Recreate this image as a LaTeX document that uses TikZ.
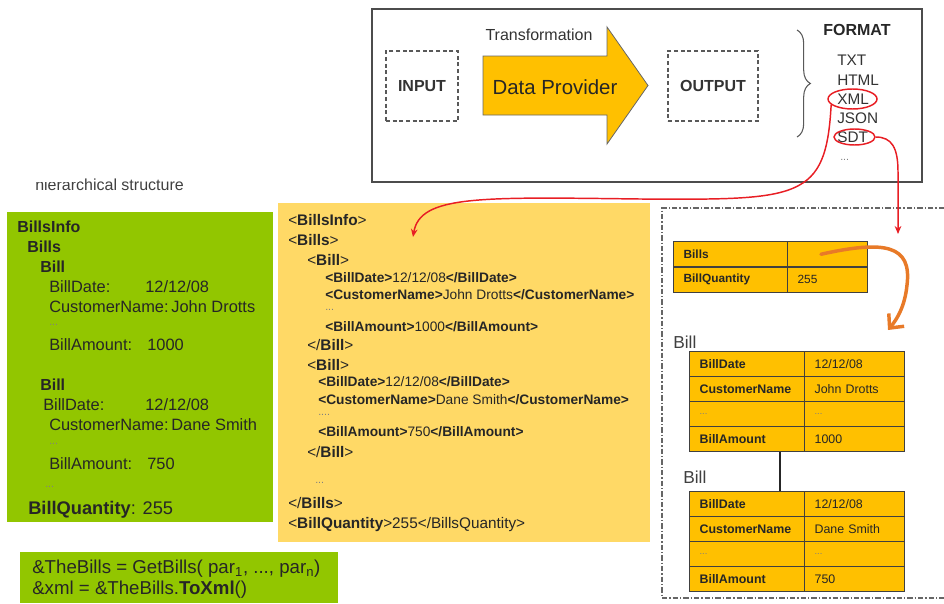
\documentclass[tikz,border=0pt]{standalone}
\usepackage{fontspec}
\setmainfont{Liberation Sans}
\usepackage{xcolor}
\usepackage{tikz}
\usetikzlibrary{shapes,arrows,positioning,calc,decorations.pathreplacing,arrows.meta}

\definecolor{billgreen}{RGB}{146,198,0}
\definecolor{xmlyellow}{RGB}{255,217,102}
\definecolor{sdtgold}{RGB}{255,192,0}
\definecolor{bendorange}{RGB}{232,122,40}
\definecolor{markred}{RGB}{232,30,36}

\tikzset{
  txt/.style={inner sep=0pt, anchor=west, text depth=0pt},
  greentxt/.style={txt, font=\fontsize{12.3}{14}\selectfont, text height=8.8pt, text=black!85},
  greenhead/.style={greentxt, font=\bfseries\fontsize{12}{14}\selectfont},
  xmlout/.style={txt, font=\fontsize{11.5}{13}\selectfont, text height=8.2pt, text=black!85},
  xmlin/.style={txt, font=\fontsize{10.3}{12}\selectfont, text height=7.4pt, text=black!85},
  dots/.style={txt, font=\fontsize{8}{9}\selectfont, text height=1pt, text=black!50},
  iobox/.style={draw=gray!70!black, dash pattern=on 3pt off 2pt, line width=0.9pt,
    minimum height=52.5pt, font=\bfseries\fontsize{12}{14}\selectfont, text=black!80},
  fmt/.style={txt, font=\fontsize{11.5}{13}\selectfont, text height=8.2pt, text=black!80},
  redring/.style={ellipse, draw=markred, line width=1.1pt, inner sep=0pt},
  redline/.style={draw=markred, line width=1.1pt, -{Stealth[length=6pt,width=5pt]}},
  keycell/.style={draw=black!75, line width=0.9pt, fill=sdtgold, anchor=north west,
    minimum height=18.75pt, text width=71pt, inner xsep=7.5pt, align=left,
    font=\bfseries\fontsize{9.3}{11}\selectfont, text=black!85},
  valcell/.style={keycell, text width=60pt, font=\fontsize{9.3}{11}\selectfont},
  billlabel/.style={txt, font=\fontsize{13}{15}\selectfont, text height=9.4pt, text=black!75},
  regionline/.style={draw=gray!80!black, line width=0.9pt, dash pattern=on 4pt off 1.5pt on 1pt off 1.5pt}
}

\begin{document}
\begin{tikzpicture}[x=0.75pt,y=-0.75pt]
    \useasboundingbox (0,0) rectangle (944,603);

    % Data provider
    \draw[line width=1.5pt, draw=gray!60!black] (372,9) rectangle (922,182);
    \node[iobox, minimum width=54pt] (input) at (422,86) {INPUT};
    \filldraw[fill=sdtgold, draw=black!60, line width=0.6pt] (483,56) -- (607,56) -- (607,27) -- (648,85.5)
        -- (607,144) -- (607,115) -- (483,115) -- cycle;
    \node[font=\fontsize{12}{14}\selectfont, text=black!80] (transf) at (539,35) {Transformation};
    \node[font=\fontsize{15.3}{17}\selectfont, text=black!85] (provider) at (555,87) {Data Provider};
    \node[iobox, minimum width=67.5pt] (output) at (713,86) {OUTPUT};
    \draw[gray!70!black, line width=0.8pt, decorate, decoration={brace, amplitude=10pt}] (797,30) -- (797,137);

    % Formats
    \node[font=\bfseries\fontsize{12}{14}\selectfont, text=black!85] (fmthead) at (857,30) {FORMAT};
    \node[fmt] (fmttxt) at (837,60) {TXT};
    \node[fmt] (fmthtml) at (837,80) {HTML};
    \node[fmt] (fmtxml) at (837,99) {XML};
    \node[fmt] (fmtjson) at (837,118) {JSON};
    \node[fmt] (fmtsdt) at (837,137) {SDT};
    \node[dots] (fmtmore) at (840,160) {...};
    \node[redring, minimum width=36.75pt, minimum height=15pt] (xmlring) at (852.5,99) {};
    \node[redring, minimum width=30.75pt, minimum height=12pt] (sdtring) at (854.5,137) {};

    % Hierarchical structure
    \node[txt, font=\fontsize{12}{14}\selectfont, text height=8.6pt, text=black!75] (hier) at (35,185) {hierarchical structure};
    \fill[white] (30,168) rectangle (79,181.5);
    \fill[billgreen] (7,212) rectangle (273,522);
    \node[greenhead] (g1) at (17,227) {BillsInfo};
    \node[greenhead] (g2) at (27,247) {Bills};
    \node[greenhead] (g3) at (40,267) {Bill};
    \node[greentxt] (g4) at (49,287) {BillDate:};
    \node[greentxt] (g4v) at (145,287) {12/12/08};
    \node[greentxt] (g5) at (49,307) {CustomerName:\,John Drotts};
    \node[dots] (g6) at (49,325) {...};
    \node[greentxt] (g7) at (49,345) {BillAmount:};
    \node[greentxt] (g7v) at (147,345) {1000};
    \node[greenhead] (g8) at (40,385) {Bill};
    \node[greentxt] (g9) at (43,405) {BillDate:};
    \node[greentxt] (g9v) at (145,405) {12/12/08};
    \node[greentxt] (g10) at (49,425) {CustomerName:\,Dane Smith};
    \node[dots] (g11) at (49,444) {...};
    \node[greentxt] (g12) at (49,464) {BillAmount:};
    \node[greentxt] (g12v) at (147,464) {750};
    \node[dots] (g13) at (45,487) {...};
    \node[greentxt, font=\fontsize{13.7}{16}\selectfont, text height=9.8pt] (g14) at (28,508) {\textbf{BillQuantity}: 255};

    % XML
    \fill[xmlyellow] (278,203) rectangle (650,542);
    \node[xmlout] (x1) at (288,220) {<\textbf{BillsInfo}>};
    \node[xmlout] (x2) at (288,240) {<\textbf{Bills}>};
    \node[xmlout] (x3) at (307,260) {<\textbf{Bill}>};
    \node[xmlin] (x4) at (325,278) {\textbf{<BillDate>}12/12/08\textbf{</BillDate>}};
    \node[xmlin] (x5) at (325,295) {\textbf{<CustomerName>}John Drotts\textbf{</CustomerName>}};
    \node[dots] (x6) at (325,310) {...};
    \node[xmlin] (x7) at (325,327) {\textbf{<BillAmount>}1000\textbf{</BillAmount>}};
    \node[xmlout] (x8) at (307,345) {</\textbf{Bill}>};
    \node[xmlout] (x9) at (307,365) {<\textbf{Bill}>};
    \node[xmlin] (x10) at (318,382) {\textbf{<BillDate>}12/12/08\textbf{</BillDate>}};
    \node[xmlin] (x11) at (318,400) {\textbf{<CustomerName>}Dane Smith\textbf{</CustomerName>}};
    \node[dots] (x12) at (318,415) {....};
    \node[xmlin] (x13) at (318,432) {\textbf{<BillAmount>}750\textbf{</BillAmount>}};
    \node[xmlout] (x14) at (307,452) {</\textbf{Bill}>};
    \node[dots] (x15) at (315,483) {...};
    \node[xmlout] (x16) at (288,503) {</\textbf{Bills}>};
    \node[xmlout] (x17) at (288,523) {<\textbf{BillQuantity}>255</BillsQuantity>};
    \coordinate (xmltip) at (413,237);

    % SDT
    \draw[regionline] (944,208) -- (662,208) -- (662,598) -- (944,598);
    \node[keycell, text width=70.5pt, minimum height=19pt, font=\bfseries\fontsize{8.9}{10}\selectfont] (bills) at (673,241) {Bills};
    \node[valcell, text width=45pt, minimum height=19pt, font=\fontsize{8.9}{10}\selectfont] (billsval) at (787,241) {};
    \node[keycell, text width=70.5pt, minimum height=19pt, font=\bfseries\fontsize{8.9}{10}\selectfont] (qty) at (673,266.5) {BillQuantity};
    \node[valcell, text width=45pt, minimum height=19pt, font=\fontsize{8.9}{10}\selectfont] (qtyval) at (787,266.5) {255};
    \coordinate (sdttip) at (898,234);

    \node[billlabel] (bill1) at (673,342) {Bill};
    \node[keycell] (b1date) at (689,351) {BillDate};
    \node[valcell] (b1dateval) at (804,351) {12/12/08};
    \node[keycell] (b1cust) at (689,376) {CustomerName};
    \node[valcell] (b1custval) at (804,376) {John Drotts};
    \node[keycell, font=\fontsize{7}{8}\selectfont, text=black!50] (b1more) at (689,401) {...};
    \node[valcell, font=\fontsize{7}{8}\selectfont, text=black!50] (b1moreval) at (804,401) {...};
    \node[keycell] (b1amount) at (689,426) {BillAmount};
    \node[valcell] (b1amountval) at (804,426) {1000};

    \node[billlabel] (bill2) at (683,477) {Bill};
    \node[keycell] (b2date) at (689,491) {BillDate};
    \node[valcell] (b2dateval) at (804,491) {12/12/08};
    \node[keycell] (b2cust) at (689,516) {CustomerName};
    \node[valcell] (b2custval) at (804,516) {Dane Smith};
    \node[keycell, font=\fontsize{7}{8}\selectfont, text=black!50] (b2more) at (689,541) {...};
    \node[valcell, font=\fontsize{7}{8}\selectfont, text=black!50] (b2moreval) at (804,541) {...};
    \node[keycell] (b2amount) at (689,566) {BillAmount};
    \node[valcell] (b2amountval) at (804,566) {750};
    \draw[line width=2pt, black!85] ([xshift=-18.75pt]b1amount.south east) -- ([xshift=-18.75pt]b2date.north east);
    \coordinate (bendtip) at (888,330);

    % Code
    \fill[billgreen] (20,552) rectangle (338,603);
    \node[greentxt, font=\fontsize{14}{16}\selectfont, text height=10pt] (code1) at (32,567)
        {\&TheBills = GetBills( par\textsubscript{1}, ..., par\textsubscript{n})};
    \node[greentxt, font=\fontsize{14}{16}\selectfont, text height=10pt] (code2) at (32,588)
        {\&xml = \&TheBills.\textbf{ToXml}()};

    % Arrows
    \draw[redline] (xmlring.195) .. controls (826,200) and (800,200) .. (640,199)
        .. controls (480,197) and (420,195) .. (xmltip);
    \draw[redline] (sdtring.east) .. controls (892,137) and (898,148) .. (898,172) -- (sdttip);
    \draw[bendorange, line width=2.6pt, line cap=round, -{Straight Barb[length=8pt,width=15pt]}]
        ([xshift=-5pt]billsval.center) .. controls (885,240) and (912,245) .. (907,285)
        .. controls (905,305) and (898,318) .. (bendtip);
\end{tikzpicture}
\end{document}
